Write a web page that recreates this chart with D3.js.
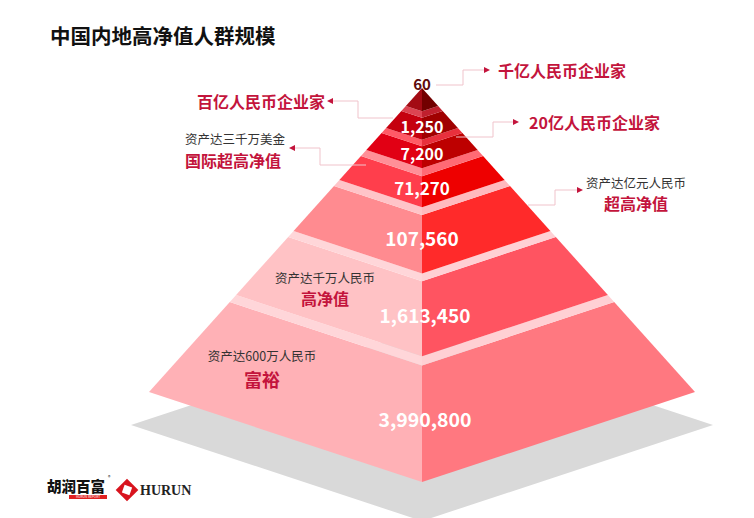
<!DOCTYPE html>
<html><head><meta charset="utf-8">
<script src="https://cdn.jsdelivr.net/npm/d3@7"></script>
<style>
body{margin:0;background:#fff}
svg{display:block}
text{font-family:"Noto Sans CJK SC","Noto Sans",sans-serif}
</style>
</head><body>
<svg id="chart" width="754" height="518"></svg>
<script>
// ---------- DATA ----------
const chartTitle = "中国内地高净值人群规模";
const tierNames = ["千亿人民币企业家","百亿人民币企业家","20亿人民币企业家","国际超高净值","超高净值","高净值","富裕"];
const tierCounts = [60, 1250, 7200, 71270, 107560, 1613450, 3990800];
const tierThresholds = ["", "", "", "资产达三千万美金", "资产达亿元人民币", "资产达千万人民币", "资产达600万人民币"];

// ---------- LAYOUT / STYLE ----------
const svg = d3.select("#chart");
const W = 754, H = 518;
const cx = 422, apexY = 88, baseY = 392, halfBase = 273, persp = 0.33;
const tierTop = [88, 111, 133, 156, 186, 237, 302];
const tierBot = [106, 128, 150, 180, 231, 295, 392];
const leftCol  = ["#a30b14","#c5000f","#e10014","#ff3e4c","#ff8b90","#ffc2c5","#ffb1b6"];
const rightCol = ["#720000","#a00000","#bd0000","#ee0000","#ff2a2a","#ff5461","#ff7880"];
const bandL = [null,"#dc4452","#ff5a66","#ff8f97","#ffc4c8","#ffd6d9","#ffd6d9"];
const bandR = [null,"#c0202e","#e8303c","#ff6a74","#ffb9be","#ffd0d4","#ffd0d4"];
const crimson = "#c3143c";

const wScale = d3.scaleLinear().domain([apexY, baseY]).range([0, halfBase]);
const fmt = d3.format(",");
const line = d3.line();

svg.append("rect").attr("width", W).attr("height", H).attr("fill", "#fff");

// title
svg.append("text").attr("x", 50).attr("y", 44)
  .attr("font-size", 20.5).attr("font-weight", 700).attr("fill", "#111")
  .text(chartTitle);

// shadow
const sw = wScale(baseY) + 18, sy = baseY + 33;
svg.append("path").attr("fill", "#d9d9d9")
  .attr("d", line([[cx - sw, sy], [cx, sy + persp * sw], [cx + sw, sy], [cx, sy - persp * sw]]) + "Z");

// pyramid, drawn bottom-up
const idx = d3.range(tierCounts.length).reverse();
idx.forEach(i => {
  const t = tierTop[i], b = tierBot[i];
  const wt = wScale(t), wb = wScale(b);
  const g = svg.append("g");
  g.append("path").attr("fill", leftCol[i])
    .attr("d", line([[cx - wt, t], [cx, t + persp * wt], [cx, b + persp * wb], [cx - wb, b]]) + "Z");
  g.append("path").attr("fill", rightCol[i])
    .attr("d", line([[cx + wt, t], [cx, t + persp * wt], [cx, b + persp * wb], [cx + wb, b]]) + "Z");
  if (i > 0) {
    const ub = tierBot[i - 1], uw = wScale(ub);
    g.append("path").attr("fill", bandL[i])
      .attr("d", line([[cx - wt, t], [cx, t + persp * wt], [cx, ub + persp * uw], [cx - uw, ub]]) + "Z");
    g.append("path").attr("fill", bandR[i])
      .attr("d", line([[cx + wt, t], [cx, t + persp * wt], [cx, ub + persp * uw], [cx + uw, ub]]) + "Z");
  }
});

// value labels
const valueY = [83, 126, 153, 187, 237, 314, 418];
const valueSize = [15, 16, 16, 17, 19, 19, 19.5];
tierCounts.forEach((v, i) => {
  svg.append("text").attr("x", cx + (i >= 5 ? 3 : 0)).attr("y", valueY[i])
    .attr("text-anchor", "middle").attr("dominant-baseline", "central")
    .attr("font-size", valueSize[i]).attr("font-weight", 700)
    .attr("fill", i === 0 ? "#5e0a0a" : "#fff")
    .text(fmt(v));
});

// connectors
const connColor = "#f0c3cb";
const connectors = [
  {pts: [[436, 85], [463, 85], [463, 70], [484, 70]], dir: 1},
  {pts: [[393, 118], [358, 118], [358, 101], [333, 101]], dir: -1},
  {pts: [[456, 137], [493, 137], [493, 122], [513, 122]], dir: 1},
  {pts: [[366, 165], [320, 165], [320, 148], [295, 148]], dir: -1},
  {pts: [[528, 205], [555, 205], [555, 190], [577, 190]], dir: 1}
];
connectors.forEach(c => {
  svg.append("path").attr("fill", "none").attr("stroke", connColor).attr("stroke-width", 1)
    .attr("d", line(c.pts));
  const [ex, ey] = c.pts[c.pts.length - 1];
  svg.append("path").attr("fill", crimson)
    .attr("d", line([[ex + c.dir * 6, ey], [ex, ey - 3], [ex, ey + 3]]) + "Z");
});

// tier name labels (outside)
svg.append("text").attr("x", 498).attr("y", 70).attr("dominant-baseline", "central")
  .attr("font-size", 16).attr("font-weight", 700).attr("fill", crimson).text(tierNames[0]);
svg.append("text").attr("x", 325).attr("y", 101).attr("text-anchor", "end").attr("dominant-baseline", "central")
  .attr("font-size", 16).attr("font-weight", 700).attr("fill", crimson).text(tierNames[1]);
svg.append("text").attr("x", 529).attr("y", 122).attr("dominant-baseline", "central")
  .attr("font-size", 16).attr("font-weight", 700).attr("fill", crimson).text(tierNames[2]);

// two-line labels
const twoLine = [
  {i: 3, x: 185, y1: 138, y2: 160, anchor: "start"},
  {i: 4, x: 636, y1: 182, y2: 203, anchor: "middle"},
  {i: 5, x: 325, y1: 277, y2: 298, anchor: "middle"},
  {i: 6, x: 262, y1: 355, y2: 379, anchor: "middle"}
];
twoLine.forEach(d => {
  svg.append("text").attr("x", d.x).attr("y", d.y1).attr("text-anchor", d.anchor)
    .attr("dominant-baseline", "central").attr("font-size", 12.5).attr("fill", "#333")
    .text(tierThresholds[d.i]);
  svg.append("text").attr("x", d.x).attr("y", d.y2).attr("text-anchor", d.anchor)
    .attr("dominant-baseline", "central").attr("font-size", d.i === 6 ? 18 : 16)
    .attr("font-weight", 700).attr("fill", crimson)
    .text(tierNames[d.i]);
});

// logos
svg.append("text").attr("x", 47).attr("y", 485).attr("dominant-baseline", "central")
  .attr("font-size", 14.5).attr("font-weight", 900).attr("fill", "#111").text("胡润百富");
svg.append("text").attr("x", 108).attr("y", 479).attr("font-size", 5).attr("fill", "#111").text("®");
svg.append("rect").attr("x", 69).attr("y", 495).attr("width", 38).attr("height", 4).attr("fill", "#e02020");
svg.append("text").attr("x", 88).attr("y", 498.3).attr("text-anchor", "middle")
  .attr("font-size", 3.2).attr("fill", "#fff").text("HURUN REPORT");
const lg = svg.append("g").attr("transform", "translate(127,490)");
lg.append("rect").attr("x", -8).attr("y", -8).attr("width", 16).attr("height", 16)
  .attr("transform", "rotate(45)").attr("fill", "#d8141e");
lg.append("rect").attr("x", -4).attr("y", -4).attr("width", 8).attr("height", 8)
  .attr("transform", "rotate(20)").attr("fill", "#fff");
svg.append("text").attr("x", 140).attr("y", 490).attr("dominant-baseline", "central")
  .style("font-family", "'Liberation Serif','DejaVu Serif',serif").attr("font-size", 14)
  .attr("font-weight", 700).attr("fill", "#222").text("HURUN");
</script>
</body></html>
